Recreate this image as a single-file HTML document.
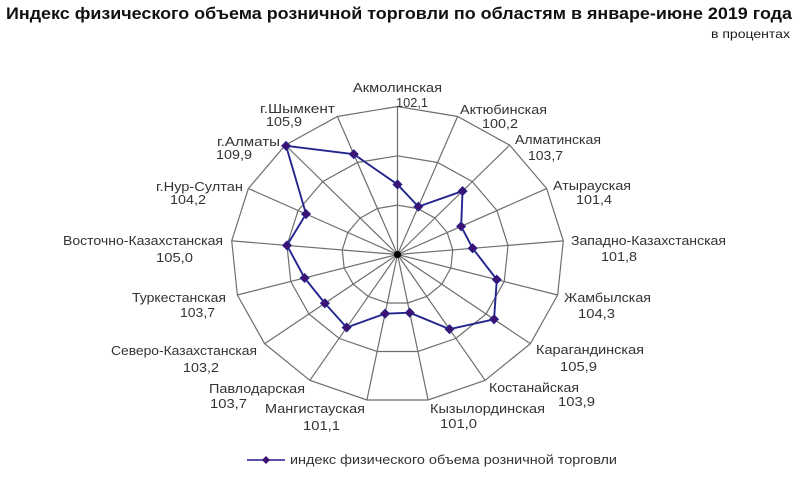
<!DOCTYPE html>
<html>
<head>
<meta charset="utf-8">
<style>
  html, body { margin:0; padding:0; background:#fff; }
  svg { display:block; }
  text { font-family: "Liberation Sans", "DejaVu Sans", sans-serif; }
  .lbl { font-size:13px; fill:#333; }
</style>
</head>
<body>
<svg width="800" height="477" viewBox="0 0 800 477" xmlns="http://www.w3.org/2000/svg">
  <rect width="800" height="477" fill="#fff"/>
  <!-- Title -->
  <text x="6" y="19" font-size="17" font-weight="bold" fill="#111" textLength="786" lengthAdjust="spacingAndGlyphs">Индекс физического объема розничной торговли по областям в январе-июне 2019 года</text>
  <text x="711" y="38" font-size="12" fill="#1a1a1a" textLength="79" lengthAdjust="spacingAndGlyphs">в процентах</text>

  <!-- Grid rings -->
  <g fill="none" stroke="#6e6e6e" stroke-width="1.2">
    <polygon points="397.5,106.5 457.65,116.49 509.67,145.13 546.64,188.53 563.29,240.84 557.64,295.0 530.37,343.69 485.15,380.33 428.09,399.98 366.91,399.98 309.85,380.33 264.63,343.69 237.36,295.0 231.71,240.84 248.36,188.53 285.33,145.13 337.35,116.49"/>
    <polygon points="397.5,155.83 437.6,162.49 472.28,181.59 496.93,210.52 508.03,245.39 504.26,281.5 486.08,313.96 455.93,338.39 417.89,351.49 377.11,351.49 339.07,338.39 308.92,313.96 290.74,281.5 286.97,245.39 298.07,210.52 322.72,181.59 357.4,162.49"/>
    <polygon points="397.5,205.17 417.55,208.5 434.89,218.04 447.21,232.51 452.76,249.95 450.88,268.0 441.79,284.23 426.72,296.44 407.7,303.0 387.3,303.0 368.28,296.44 353.21,284.23 344.12,268.0 342.24,249.95 347.79,232.51 360.11,218.04 377.45,208.5"/>
    <!-- Spokes -->
    <path d="M397.5,254.5 L397.5,106.5
             M397.5,254.5 L457.65,116.49
             M397.5,254.5 L509.67,145.13
             M397.5,254.5 L546.64,188.53
             M397.5,254.5 L563.29,240.84
             M397.5,254.5 L557.64,295.0
             M397.5,254.5 L530.37,343.69
             M397.5,254.5 L485.15,380.33
             M397.5,254.5 L428.09,399.98
             M397.5,254.5 L366.91,399.98
             M397.5,254.5 L309.85,380.33
             M397.5,254.5 L264.63,343.69
             M397.5,254.5 L237.36,295.0
             M397.5,254.5 L231.71,240.84
             M397.5,254.5 L248.36,188.53
             M397.5,254.5 L285.33,145.13
             M397.5,254.5 L337.35,116.49"/>
  </g>
  <circle cx="397.5" cy="254.5" r="3.5" fill="#000"/>

  <!-- Series -->
  <polygon fill="none" stroke="#25258f" stroke-width="1.9" stroke-linejoin="round"
    points="397.5,184.45 418.35,206.66 462.56,191.07 461.13,226.35 472.66,248.31 496.79,279.61 494.05,319.31 449.51,329.16 409.74,312.69 385.06,313.66 346.66,327.48 324.86,303.26 304.62,277.99 286.97,245.39 306.03,214.04 286.08,145.86 353.79,154.21"/>
  <g fill="#3d1272" stroke="#25258f" stroke-width="0.8">
    <path d="M397.5,179.95 l4.5,4.5 l-4.5,4.5 l-4.5,-4.5 z"/>
    <path d="M418.35,202.16 l4.5,4.5 l-4.5,4.5 l-4.5,-4.5 z"/>
    <path d="M462.56,186.57 l4.5,4.5 l-4.5,4.5 l-4.5,-4.5 z"/>
    <path d="M461.13,221.85 l4.5,4.5 l-4.5,4.5 l-4.5,-4.5 z"/>
    <path d="M472.66,243.81 l4.5,4.5 l-4.5,4.5 l-4.5,-4.5 z"/>
    <path d="M496.79,275.11 l4.5,4.5 l-4.5,4.5 l-4.5,-4.5 z"/>
    <path d="M494.05,314.81 l4.5,4.5 l-4.5,4.5 l-4.5,-4.5 z"/>
    <path d="M449.51,324.66 l4.5,4.5 l-4.5,4.5 l-4.5,-4.5 z"/>
    <path d="M409.74,308.19 l4.5,4.5 l-4.5,4.5 l-4.5,-4.5 z"/>
    <path d="M385.06,309.16 l4.5,4.5 l-4.5,4.5 l-4.5,-4.5 z"/>
    <path d="M346.66,322.98 l4.5,4.5 l-4.5,4.5 l-4.5,-4.5 z"/>
    <path d="M324.86,298.76 l4.5,4.5 l-4.5,4.5 l-4.5,-4.5 z"/>
    <path d="M304.62,273.49 l4.5,4.5 l-4.5,4.5 l-4.5,-4.5 z"/>
    <path d="M286.97,240.89 l4.5,4.5 l-4.5,4.5 l-4.5,-4.5 z"/>
    <path d="M306.03,209.54 l4.5,4.5 l-4.5,4.5 l-4.5,-4.5 z"/>
    <path d="M286.08,141.36 l4.5,4.5 l-4.5,4.5 l-4.5,-4.5 z"/>
    <path d="M353.79,149.71 l4.5,4.5 l-4.5,4.5 l-4.5,-4.5 z"/>
  </g>

  <!-- Category labels -->
  <g class="lbl">
    <text x="353" y="92" textLength="89" lengthAdjust="spacingAndGlyphs" class="lbl">Акмолинская</text>
    <text x="396" y="107" textLength="32" lengthAdjust="spacingAndGlyphs" class="lbl">102,1</text>

    <text x="460" y="114" textLength="87" lengthAdjust="spacingAndGlyphs" class="lbl">Актюбинская</text>
    <text x="482" y="128" textLength="36" lengthAdjust="spacingAndGlyphs" class="lbl">100,2</text>

    <text x="515" y="144" textLength="86" lengthAdjust="spacingAndGlyphs" class="lbl">Алматинская</text>
    <text x="528" y="160" textLength="35" lengthAdjust="spacingAndGlyphs" class="lbl">103,7</text>

    <text x="553" y="190" textLength="78" lengthAdjust="spacingAndGlyphs" class="lbl">Атырауская</text>
    <text x="576" y="204" textLength="36" lengthAdjust="spacingAndGlyphs" class="lbl">101,4</text>

    <text x="571" y="245" textLength="155" lengthAdjust="spacingAndGlyphs" class="lbl">Западно-Казахстанская</text>
    <text x="601" y="261" textLength="36" lengthAdjust="spacingAndGlyphs" class="lbl">101,8</text>

    <text x="564" y="302" textLength="87" lengthAdjust="spacingAndGlyphs" class="lbl">Жамбылская</text>
    <text x="578" y="318" textLength="37" lengthAdjust="spacingAndGlyphs" class="lbl">104,3</text>

    <text x="536" y="354" textLength="108" lengthAdjust="spacingAndGlyphs" class="lbl">Карагандинская</text>
    <text x="560" y="371" textLength="37" lengthAdjust="spacingAndGlyphs" class="lbl">105,9</text>

    <text x="489" y="392" textLength="90" lengthAdjust="spacingAndGlyphs" class="lbl">Костанайская</text>
    <text x="558" y="406" textLength="37" lengthAdjust="spacingAndGlyphs" class="lbl">103,9</text>

    <text x="430" y="413" textLength="115" lengthAdjust="spacingAndGlyphs" class="lbl">Кызылординская</text>
    <text x="440" y="428" textLength="37" lengthAdjust="spacingAndGlyphs" class="lbl">101,0</text>

    <text x="265" y="413" textLength="100" lengthAdjust="spacingAndGlyphs" class="lbl">Мангистауская</text>
    <text x="303" y="430" textLength="37" lengthAdjust="spacingAndGlyphs" class="lbl">101,1</text>

    <text x="209" y="393" textLength="96" lengthAdjust="spacingAndGlyphs" class="lbl">Павлодарская</text>
    <text x="210" y="408" textLength="37" lengthAdjust="spacingAndGlyphs" class="lbl">103,7</text>

    <text x="111" y="355" textLength="146" lengthAdjust="spacingAndGlyphs" class="lbl">Северо-Казахстанская</text>
    <text x="183" y="372" textLength="36" lengthAdjust="spacingAndGlyphs" class="lbl">103,2</text>

    <text x="132" y="302" textLength="94" lengthAdjust="spacingAndGlyphs" class="lbl">Туркестанская</text>
    <text x="180" y="317" textLength="35" lengthAdjust="spacingAndGlyphs" class="lbl">103,7</text>

    <text x="63" y="245" textLength="160" lengthAdjust="spacingAndGlyphs" class="lbl">Восточно-Казахстанская</text>
    <text x="156" y="262" textLength="37" lengthAdjust="spacingAndGlyphs" class="lbl">105,0</text>

    <text x="156" y="191" textLength="87" lengthAdjust="spacingAndGlyphs" class="lbl">г.Нур-Султан</text>
    <text x="170" y="204" textLength="36" lengthAdjust="spacingAndGlyphs" class="lbl">104,2</text>

    <text x="217" y="146" textLength="63" lengthAdjust="spacingAndGlyphs" class="lbl">г.Алматы</text>
    <text x="216" y="159" textLength="36" lengthAdjust="spacingAndGlyphs" class="lbl">109,9</text>

    <text x="260" y="113" textLength="75" lengthAdjust="spacingAndGlyphs" class="lbl">г.Шымкент</text>
    <text x="266" y="126" textLength="36" lengthAdjust="spacingAndGlyphs" class="lbl">105,9</text>
  </g>

  <!-- Legend -->
  <line x1="247" y1="460" x2="285" y2="460" stroke="#4a3aa0" stroke-width="1.8"/>
  <path d="M266,456 l4,4 l-4,4 l-4,-4 z" fill="#3d1272"/>
  <text x="290" y="464" font-size="13" fill="#333" textLength="327" lengthAdjust="spacingAndGlyphs">индекс физического объема розничной торговли</text>
</svg>
</body>
</html>
